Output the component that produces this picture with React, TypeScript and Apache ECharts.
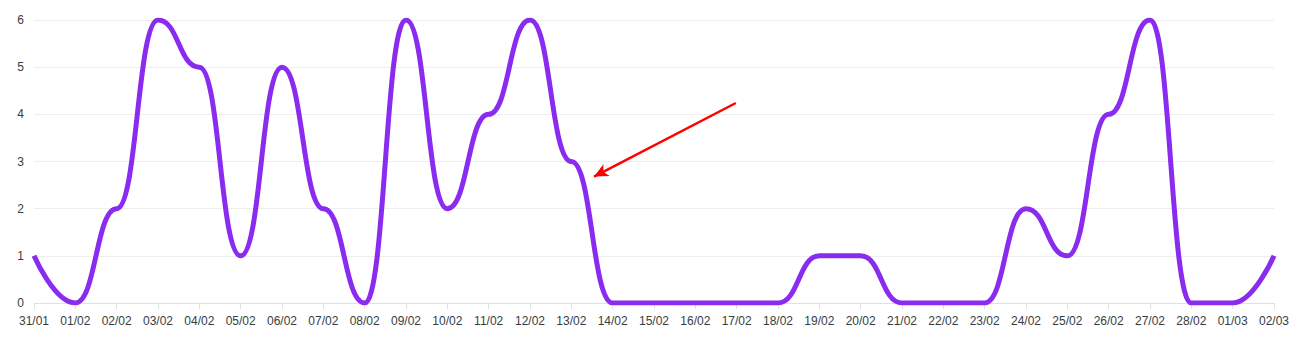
import React, { useEffect, useRef } from "react";
import * as echarts from "echarts";

const categories = [
  "31/01", "01/02", "02/02", "03/02", "04/02", "05/02", "06/02", "07/02", "08/02", "09/02",
  "10/02", "11/02", "12/02", "13/02", "14/02", "15/02", "16/02", "17/02", "18/02", "19/02",
  "20/02", "21/02", "22/02", "23/02", "24/02", "25/02", "26/02", "27/02", "28/02", "01/03", "02/03",
];
const values = [1, 0, 2, 6, 5, 1, 5, 2, 0, 6, 2, 4, 6, 3, 0, 0, 0, 0, 0, 1, 1, 0, 0, 0, 2, 1, 4, 6, 0, 0, 1];
const arrowFrom = [16.98, 4.24];
const arrowTo = [13.55, 2.68];

export default function App() {
  const ref = useRef<HTMLDivElement>(null);
  useEffect(() => {
    const chart = echarts.init(ref.current!, undefined, { renderer: "svg" });
    const labelStyle = { color: "#373d3f", fontSize: 12, fontFamily: "Liberation Sans, Arial" };
    chart.setOption({
      animation: false,
      grid: { left: 26, right: 22, top: 12, bottom: 42 },
      xAxis: [
        {
          type: "category",
          data: categories,
          boundaryGap: false,
          axisLine: { lineStyle: { color: "#e0e0e0" } },
          axisTick: { show: true, alignWithLabel: true, length: 6, lineStyle: { color: "#e0e0e0" } },
          axisLabel: { ...labelStyle, interval: 0, margin: 12 },
        },
        { type: "value", min: 0, max: categories.length - 1, show: false },
      ],
      yAxis: {
        type: "value",
        min: 0,
        max: 6,
        interval: 1,
        axisLine: { show: false },
        axisTick: { show: false },
        splitLine: { lineStyle: { color: "#eeeeee" } },
        axisLabel: { ...labelStyle, margin: 10 },
      },
      series: [
        {
          type: "line",
          data: values,
          smooth: 0.5,
          smoothMonotone: "x",
          showSymbol: false,
          symbol: "none",
          lineStyle: { color: "#8a2bf0", width: 5 },
        },
        {
          type: "line",
          xAxisIndex: 1,
          data: [],
          symbol: "none",
          markLine: {
            silent: true,
            symbol: ["none", "arrow"],
            symbolSize: [10, 14],
            label: { show: false },
            lineStyle: { color: "#ff0000", width: 2.5, type: "solid" },
            data: [[{ coord: arrowFrom }, { coord: arrowTo }]],
          },
        },
      ],
    });
    return () => chart.dispose();
  }, []);
  return <div ref={ref} style={{ width: 1288, height: 337 }} />;
}
